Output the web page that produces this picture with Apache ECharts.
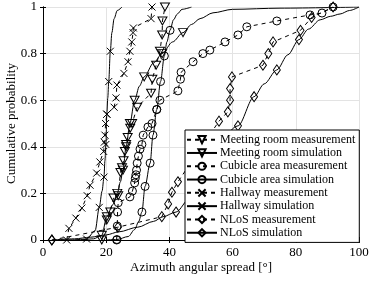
<!DOCTYPE html>
<html><head><meta charset="utf-8">
<script src="https://cdn.jsdelivr.net/npm/echarts@6/dist/echarts.min.js"></script>
<style>html,body{margin:0;padding:0;background:#fff}#c{width:374px;height:281px}</style>
</head><body><div id="c"></div>
<script>
// ---- data ----
const seriesNames = ['Meeting room measurement','Meeting room simulation','Cubicle area measurement','Cubicle area simulation','Hallway measurement','Hallway simulation','NLoS measurement','NLoS simulation'];

const mrMeasX = [18.6, 20.2, 21.3, 22.3, 23.8, 24.5, 25.0, 25.5, 25.9, 26.3, 26.8, 27.6, 28.2, 29.8, 34.2, 34.6, 35.8, 37.0, 37.7, 37.8, 38.6];
const mrMeasY = [0, 0.086, 0.12, 0.18, 0.19, 0.29, 0.31, 0.34, 0.38, 0.41, 0.44, 0.48, 0.50, 0.57, 0.63, 0.69, 0.75, 0.81, 0.88, 0.94, 1.0];

const mrSimX = [12, 16, 18.6, 20.2, 22.0, 23.5, 24.5, 25.3, 26.3, 27.5, 29.0, 30.5, 32.0, 35.0, 37.7, 41.0, 44.3, 47.0, 49.7, 53.8, 60, 75, 100];
const mrSimY = [0, 0.005, 0.02, 0.1, 0.15, 0.2, 0.25, 0.3, 0.4, 0.5, 0.6, 0.66, 0.7, 0.76, 0.8, 0.85, 0.89, 0.925, 0.95, 0.975, 0.99, 0.995, 1.0];
const mrSimMarks = [2, 3, 5, 7, 8, 9, 10, 12, 14, 16];

const cuMeasX = [23.3, 23.5, 23.6, 23.8, 27.5, 28.3, 29.0, 29.2, 29.4, 29.6, 29.8, 30.2, 30.7, 31.3, 31.7, 33.2, 34.5, 36.0, 37.0, 42.7, 43.5, 43.7, 47.5, 50.6, 52.8, 57.6, 61.7, 64.5, 74, 84.5, 88.3, 91.8];
const cuMeasY = [0, 0.06, 0.12, 0.16, 0.185, 0.21, 0.245, 0.265, 0.28, 0.30, 0.33, 0.36, 0.39, 0.41, 0.45, 0.485, 0.50, 0.56, 0.60, 0.64, 0.69, 0.72, 0.765, 0.80, 0.815, 0.85, 0.88, 0.915, 0.94, 0.966, 0.974, 1.0];

const cuSimX = [20, 23.4, 27, 29, 30.3, 31.3, 32.3, 33.9, 34.8, 36.0, 37.2, 38.4, 39.2, 40.2, 41.3, 42.5, 44, 47];
const cuSimY = [0, 0.002, 0.015, 0.045, 0.08, 0.12, 0.23, 0.33, 0.45, 0.56, 0.68, 0.79, 0.85, 0.90, 0.945, 0.97, 0.99, 1.0];
const cuSimMarks = [1, 5, 6, 7, 8, 9, 10, 11, 13];

const hwMeasX = [7.5, 8.2, 10.4, 12.3, 14.0, 14.9, 17.0, 18.0, 19.2, 19.4, 19.6, 19.8, 20.2, 22.5, 23.1, 23.4, 25.6, 26.9, 27.5, 28.1, 28.5, 28.6, 34.2, 34.5];
const hwMeasY = [0, 0.05, 0.094, 0.137, 0.19, 0.235, 0.287, 0.335, 0.38, 0.42, 0.45, 0.50, 0.54, 0.57, 0.61, 0.665, 0.715, 0.765, 0.81, 0.85, 0.89, 0.91, 0.95, 1.0];

const hwSimX = [5, 10, 13.8, 16.5, 17.8, 18.7, 19.3, 19.6, 19.9, 20.2, 20.5, 20.8, 21.3, 21.8, 22.5, 23.5, 25];
const hwSimY = [0, 0.001, 0.004, 0.04, 0.14, 0.21, 0.27, 0.34, 0.41, 0.54, 0.61, 0.68, 0.81, 0.89, 0.95, 0.985, 1.0];
const hwSimMarks = [2, 4, 6, 8, 9, 11, 12];

const nlMeasX = [2.8, 23.7, 37.6, 39.6, 40.8, 42.7, 55.7, 58.5, 59.2, 59.2, 59.8, 69.6, 71.3, 72.8, 81.5, 85, 91.8];
const nlMeasY = [0, 0.055, 0.10, 0.155, 0.205, 0.25, 0.51, 0.55, 0.60, 0.65, 0.70, 0.75, 0.80, 0.85, 0.90, 0.955, 1.0];

const nlSimX = [2.8, 10, 15, 20, 24, 30, 35, 38, 42.1, 46.5, 61.7, 66.8, 70, 74, 77.5, 81, 84, 87.7, 91, 94, 97, 100];
const nlSimY = [0, 0.005, 0.012, 0.022, 0.035, 0.055, 0.08, 0.10, 0.12, 0.18, 0.49, 0.615, 0.67, 0.73, 0.795, 0.86, 0.905, 0.945, 0.96, 0.97, 0.985, 1.0];
const nlSimMarks = [0, 8, 10, 11, 13, 15];

const xTicks = [0, 20, 40, 60, 80, 100];
const yTicks = [0, 0.2, 0.4, 0.6, 0.8, 1];

// ---- build ----
const FONT = 'Liberation Serif';
const crossPath = 'path://M0,0L10,10M10,0L0,10';
const symbols = {
  tri: {symbol: 'triangle', symbolRotate: 180, symbolSize: [9, 8]},
  circ: {symbol: 'circle', symbolSize: 8},
  cross: {symbol: crossPath, symbolSize: 7},
  dia: {symbol: 'diamond', symbolSize: [7, 10]}
};

function mkData(xs, ys, marks) {
  return xs.map((x, i) => {
    const item = {value: [x, ys[i]]};
    if (marks && marks.indexOf(i) < 0) item.symbol = 'none';
    return item;
  });
}
function mkSeries(name, xs, ys, marks, sym, dashed, smooth) {
  return Object.assign({
    name: name, type: 'line', data: mkData(xs, ys, marks),
    showSymbol: true, showAllSymbol: true,
    smooth: smooth ? 0.3 : false, smoothMonotone: 'x',
    lineStyle: {color: '#000', width: 1, type: dashed ? [4, 4] : 'solid'},
    itemStyle: {color: 'rgba(255,255,255,0)', borderColor: '#000', borderWidth: 1},
    emphasis: {disabled: true},
    z: 2
  }, sym);
}

const series = [
  mkSeries(seriesNames[0], mrMeasX, mrMeasY, null, symbols.tri, true, false),
  mkSeries(seriesNames[1], mrSimX, mrSimY, mrSimMarks, symbols.tri, false, true),
  mkSeries(seriesNames[2], cuMeasX, cuMeasY, null, symbols.circ, true, false),
  mkSeries(seriesNames[3], cuSimX, cuSimY, cuSimMarks, symbols.circ, false, true),
  mkSeries(seriesNames[4], hwMeasX, hwMeasY, null, symbols.cross, true, false),
  mkSeries(seriesNames[5], hwSimX, hwSimY, hwSimMarks, symbols.cross, false, true),
  mkSeries(seriesNames[6], nlMeasX, nlMeasY, null, symbols.dia, true, false),
  mkSeries(seriesNames[7], nlSimX, nlSimY, nlSimMarks, symbols.dia, false, true)
];

const axisCommon = {
  axisLine: {show: true, lineStyle: {color: '#000', width: 1}},
  axisTick: {show: true, inside: true, length: 3, lineStyle: {color: '#000'}},
};
const nameStyle = {fontFamily: FONT, fontSize: 13, color: '#000', fontWeight: 'normal'};
const labelStyle = {fontFamily: FONT, fontSize: 13, color: '#000', fontWeight: 'normal', margin: 6};
const chart = echarts.init(document.getElementById('c'), null, {renderer: 'canvas'});
chart.setOption({
  animation: false,
  backgroundColor: '#fff',
  textStyle: {fontFamily: FONT},
  grid: {left: 43, right: 15, top: 7, bottom: 41, containLabel: false, outerBoundsMode: 'none'},
  xAxis: [
    Object.assign({type: 'value', min: xTicks[0], max: xTicks[xTicks.length - 1], interval: xTicks[1] - xTicks[0],
      name: 'Azimuth angular spread [°]', nameLocation: 'middle', nameGap: 21, nameMoveOverlap: false,
      nameTextStyle: nameStyle,
      axisLabel: labelStyle,
      splitLine: {show: true, lineStyle: {color: '#e3e3e3', width: 1}}}, axisCommon),
    Object.assign({type: 'value', position: 'top', min: xTicks[0], max: xTicks[xTicks.length - 1], interval: xTicks[1] - xTicks[0],
      axisLabel: {show: false}, splitLine: {show: false}}, axisCommon)
  ],
  yAxis: [
    Object.assign({type: 'value', min: yTicks[0], max: yTicks[yTicks.length - 1], interval: 0.2,
      name: 'Cumulative probability', nameLocation: 'middle', nameGap: 25, nameMoveOverlap: false,
      nameTextStyle: nameStyle,
      axisLabel: labelStyle,
      splitLine: {show: true, lineStyle: {color: '#e3e3e3', width: 1}}}, axisCommon),
    Object.assign({type: 'value', position: 'right', min: yTicks[0], max: yTicks[yTicks.length - 1], interval: 0.2,
      axisLabel: {show: false}, splitLine: {show: false}}, axisCommon)
  ],
  legend: {
    orient: 'vertical', left: 185, top: 130,
    data: seriesNames,
    backgroundColor: '#fff', borderColor: '#000', borderWidth: 1,
    padding: [3, 4, 3, 1],
    itemWidth: 30, itemHeight: 9, itemGap: 0,
    selectedMode: false,
    textStyle: {fontFamily: FONT, fontSize: 12, color: '#000', fontWeight: 'normal', lineHeight: 13.3, padding: [0, 0, 0, -2]},
    z: 10
  },
  series: series
});
</script></body></html>
